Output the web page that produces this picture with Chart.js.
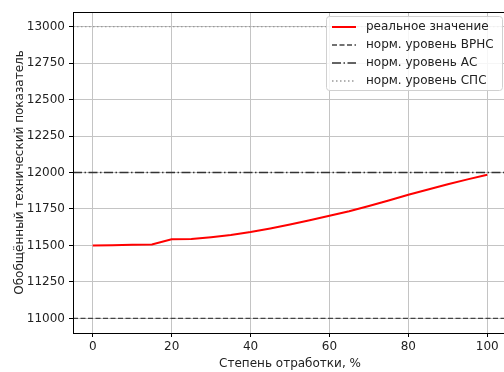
<!DOCTYPE html>
<html>
<head>
<meta charset="utf-8">
<script src="https://cdn.jsdelivr.net/npm/chart.js@4"></script>
<style>
  html, body { margin: 0; padding: 0; background: #fff; overflow: hidden; }
  canvas { display: block; }
</style>
</head>
<body>
<canvas id="myChart" width="510" height="372"></canvas>
<script>
let progress = [0, 5, 10, 15, 20, 25, 30, 35, 40, 45, 50, 55, 60, 65, 70, 75, 80, 85, 90, 95, 100];
let realValues = [11500, 11502, 11505, 11507, 11543, 11545, 11557, 11572, 11592, 11616, 11643, 11673, 11704, 11735, 11770, 11808, 11848, 11884, 11919, 11953, 11985];
let levelVRNS = 11000;
let levelAS = 12000;
let levelSPS = 13000;
let xTicks = [0, 20, 40, 60, 80, 100];
let yTicks = [11000, 11250, 11500, 11750, 12000, 12250, 12500, 12750, 13000];
let seriesLabels = ['реальное значение', 'норм. уровень ВРНС', 'норм. уровень АС', 'норм. уровень СПС'];

const X_MIN = -5, X_MAX = 105;
const FONT = 'DejaVu Sans';

function hline(y) {
  return [{x: X_MIN, y: y}, {x: X_MAX, y: y}];
}

// frame on all four sides, like axes spines
const framePlugin = {
  id: 'frame',
  afterDatasetsDraw(chart) {
    const {ctx, chartArea: a} = chart;
    ctx.save();
    ctx.strokeStyle = '#000';
    ctx.lineWidth = 1;
    ctx.strokeRect(Math.round(a.left) + 0.5, Math.round(a.top) + 0.5, Math.round(a.right - a.left), Math.round(a.bottom - a.top));
    ctx.restore();
  }
};

// legend box in the upper right corner of the plot
const boxLegend = {
  id: 'boxLegend',
  afterDraw(chart) {
    const ctx = chart.ctx;
    const x0 = 326, y0 = 16, w = 176, h = 74, r = 3;
    ctx.save();
    ctx.fillStyle = 'rgba(255,255,255,0.85)';
    ctx.strokeStyle = '#d0d0d0';
    ctx.lineWidth = 1;
    ctx.beginPath();
    ctx.roundRect(x0 + 0.5, y0 + 0.5, w, h, r);
    ctx.fill();
    ctx.stroke();
    ctx.font = '12px "' + FONT + '"';
    ctx.textBaseline = 'middle';
    chart.data.datasets.forEach((ds, i) => {
      const y = y0 + 11 + i * 18;
      ctx.strokeStyle = ds.borderColor;
      ctx.lineWidth = ds.borderWidth;
      ctx.setLineDash(ds.borderDash || []);
      ctx.beginPath();
      ctx.moveTo(332, y);
      ctx.lineTo(356, y);
      ctx.stroke();
      ctx.setLineDash([]);
      ctx.fillStyle = '#222';
      ctx.fillText(ds.label, 366, y);
    });
    ctx.restore();
  }
};

let ctx = document.getElementById('myChart').getContext('2d');

let myChart = new Chart(ctx, {
  type: 'line',
  data: {
    datasets: [{
      label: seriesLabels[0],
      data: progress.map((p, i) => ({x: p, y: realValues[i]})),
      borderColor: '#ff0000',
      borderWidth: 2,
      pointRadius: 0,
      tension: 0
    }, {
      label: seriesLabels[1],
      data: hline(levelVRNS),
      borderColor: '#444444',
      borderWidth: 1.3,
      borderDash: [5, 2.5],
      pointRadius: 0
    }, {
      label: seriesLabels[2],
      data: hline(levelAS),
      borderColor: '#333333',
      borderWidth: 1.3,
      borderDash: [9, 2.5, 1.5, 2.5],
      pointRadius: 0
    }, {
      label: seriesLabels[3],
      data: hline(levelSPS),
      borderColor: '#999999',
      borderWidth: 1.3,
      borderDash: [1.5, 2.5],
      pointRadius: 0
    }]
  },
  options: {
    responsive: false,
    animation: false,
    events: [],
    layout: {
      padding: {top: 12, right: 3, left: 0, bottom: 0}
    },
    plugins: {
      legend: {display: false},
      tooltip: {enabled: false}
    },
    scales: {
      x: {
        type: 'linear',
        min: X_MIN,
        max: X_MAX,
        afterBuildTicks: (scale) => {
          scale.ticks = xTicks.map(v => ({value: v}));
        },
        afterFit: (scale) => { scale.height = 39; },
        grid: {color: '#c4c4c4', lineWidth: 1, tickLength: 4, tickColor: '#000'},
        border: {color: '#000', width: 1},
        ticks: {
          color: '#222',
          font: {family: FONT, size: 12},
          padding: 3,
          maxRotation: 0
        },
        title: {
          display: true,
          text: 'Степень отработки, %',
          color: '#222',
          font: {family: FONT, size: 12},
          padding: {top: 0, bottom: 1}
        }
      },
      y: {
        type: 'linear',
        min: 10900,
        max: 13100,
        afterBuildTicks: (scale) => {
          scale.ticks = yTicks.map(v => ({value: v}));
        },
        afterFit: (scale) => { scale.width = 73; },
        grid: {color: '#c4c4c4', lineWidth: 1, tickLength: 4, tickColor: '#000'},
        border: {color: '#000', width: 1},
        ticks: {
          color: '#222',
          font: {family: FONT, size: 12},
          padding: 4,
          callback: (v) => String(v)
        },
        title: {
          display: true,
          text: 'Обобщённый технический показатель',
          color: '#222',
          font: {family: FONT, size: 12},
          padding: {top: 13, bottom: 0}
        }
      }
    }
  },
  plugins: [framePlugin, boxLegend]
});
</script>
</body>
</html>
